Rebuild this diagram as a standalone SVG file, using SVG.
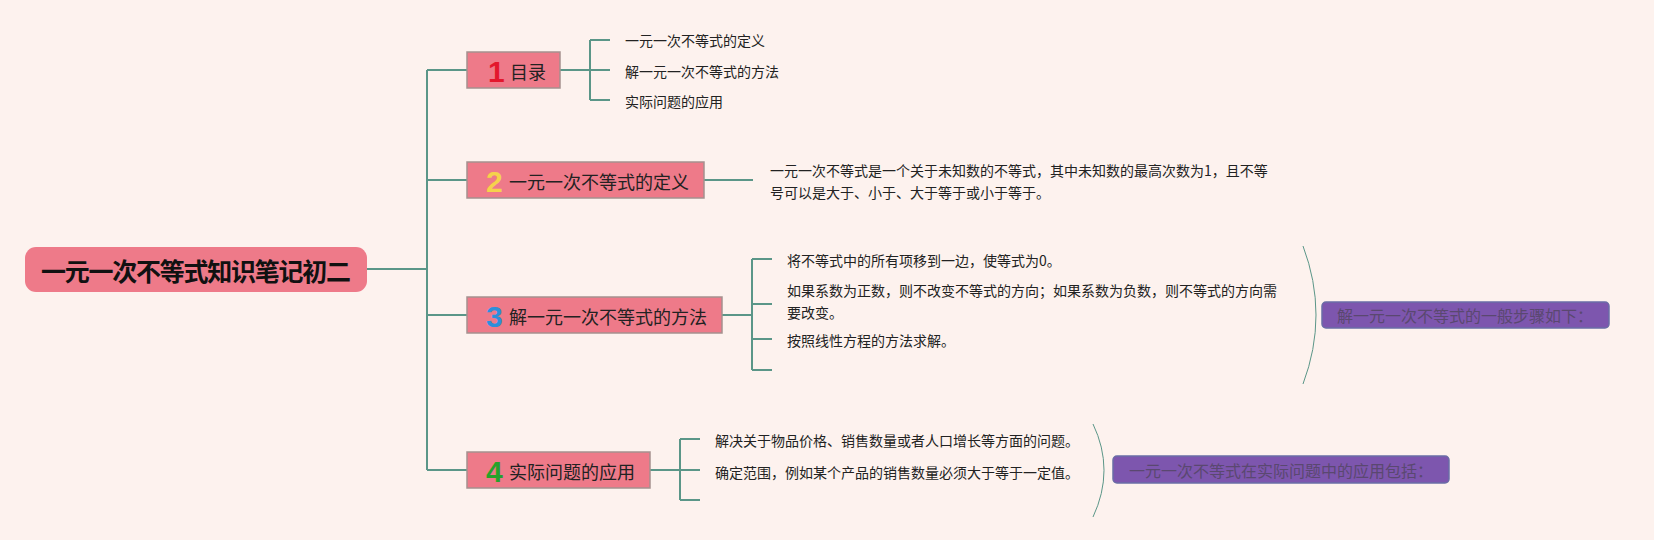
<svg xmlns="http://www.w3.org/2000/svg" width="1654" height="540" viewBox="0 0 1654 540">
<style>
.conn{fill:none;stroke:#5B9688;stroke-width:2}
.brace{fill:none;stroke:#5B9688;stroke-width:1}
.box{fill:#EE7A89;stroke:#A5918F;stroke-width:1.5}
.lbl{font-family:"Noto Sans CJK SC","Liberation Sans",sans-serif;font-size:18px;fill:#222}
.num{font-family:"Liberation Sans","DejaVu Sans",sans-serif;font-size:30px;font-weight:bold}
.sub{font-family:"Noto Sans CJK SC","Liberation Sans",sans-serif;font-size:14px;fill:#222}
.sum{fill:#7D56AE;stroke:#6A6DA6;stroke-width:1.5}
.sumt{font-family:"Noto Sans CJK SC","Liberation Sans",sans-serif;font-size:16px;fill:#5A4870}
.roott{font-family:"Noto Sans CJK SC","Liberation Sans",sans-serif;font-size:25px;font-weight:bold;fill:#111}
</style>
<rect x="0" y="0" width="1654" height="540" fill="#FDF2EE"/>
<g id="connectors">
<path class="conn" d="M367,269 H427 M427,70 V470 M427,70 H467 M427,180 H467 M427,315 H467 M427,470 H467"/>
<path class="conn" d="M560,70 H590 M590,40 V100 M590,40 H610 M590,70 H610 M590,100 H610"/>
<path class="conn" d="M704,180 H753"/>
<path class="conn" d="M722,315 H752 M752,259 V370 M752,259 H772 M752,304 H772 M752,339 H772 M752,370 H772"/>
<path class="conn" d="M650,470 H680 M680,439 V500 M680,439 H700 M680,470 H700 M680,500 H700"/>
<path class="brace" d="M1303,246 Q1329,315 1303,384"/>
<path class="brace" d="M1093,424 Q1115,470 1093,517"/>
</g>
<g id="root">
<rect x="25" y="247" width="342" height="45" rx="11" fill="#EE7A89"/>
<text class="roott" x="41" y="270" dominant-baseline="central" textLength="310" lengthAdjust="spacing">一元一次不等式知识笔记初二</text>
</g>
<g id="node1">
<rect class="box" x="467" y="52" width="93" height="36"/>
<text x="488" y="71" dominant-baseline="central"><tspan class="num" fill="#E3172D">1</tspan><tspan class="lbl" x="510">目录</tspan></text>
</g>
<g id="node1-items">
<text class="sub" x="625" y="40" dominant-baseline="central">一元一次不等式的定义</text>
<text class="sub" x="625" y="71" dominant-baseline="central">解一元一次不等式的方法</text>
<text class="sub" x="625" y="101" dominant-baseline="central">实际问题的应用</text>
</g>
<g id="node2">
<rect class="box" x="467" y="162" width="237" height="36"/>
<text x="486" y="181" dominant-baseline="central"><tspan class="num" fill="#F5D24C">2</tspan><tspan class="lbl" x="509">一元一次不等式的定义</tspan></text>
</g>
<g id="node2-items">
<text class="sub" x="770" y="170" dominant-baseline="central">一元一次不等式是一个关于未知数的不等式，其中未知数的最高次数为1，且不等</text>
<text class="sub" x="770" y="192" dominant-baseline="central">号可以是大于、小于、大于等于或小于等于。</text>
</g>
<g id="node3">
<rect class="box" x="467" y="297" width="255" height="36"/>
<text x="486" y="316" dominant-baseline="central"><tspan class="num" fill="#2D8FDA">3</tspan><tspan class="lbl" x="509">解一元一次不等式的方法</tspan></text>
</g>
<g id="node3-items">
<text class="sub" x="787" y="260" dominant-baseline="central">将不等式中的所有项移到一边，使等式为0。</text>
<text class="sub" x="787" y="290" dominant-baseline="central">如果系数为正数，则不改变不等式的方向；如果系数为负数，则不等式的方向需</text>
<text class="sub" x="787" y="312" dominant-baseline="central">要改变。</text>
<text class="sub" x="787" y="340" dominant-baseline="central">按照线性方程的方法求解。</text>
</g>
<g id="summary1">
<rect class="sum" x="1322" y="302" width="287" height="26" rx="4"/>
<text class="sumt" x="1465" y="315" text-anchor="middle" dominant-baseline="central">解一元一次不等式的一般步骤如下：</text>
</g>
<g id="node4">
<rect class="box" x="467" y="452" width="183" height="36"/>
<text x="486" y="471" dominant-baseline="central"><tspan class="num" fill="#27A12B">4</tspan><tspan class="lbl" x="509">实际问题的应用</tspan></text>
</g>
<g id="node4-items">
<text class="sub" x="715" y="440" dominant-baseline="central">解决关于物品价格、销售数量或者人口增长等方面的问题。</text>
<text class="sub" x="715" y="472" dominant-baseline="central">确定范围，例如某个产品的销售数量必须大于等于一定值。</text>
</g>
<g id="summary2">
<rect class="sum" x="1113" y="456" width="336" height="27" rx="4"/>
<text class="sumt" x="1281" y="470" text-anchor="middle" dominant-baseline="central">一元一次不等式在实际问题中的应用包括：</text>
</g>
</svg>
